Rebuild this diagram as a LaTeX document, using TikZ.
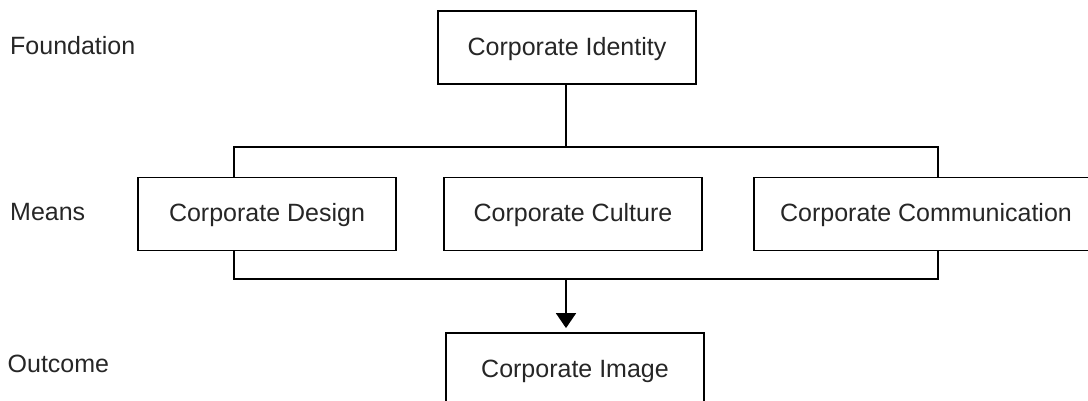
\documentclass[tikz,border=0pt]{standalone}
\usepackage{fontspec}
\setmainfont{Liberation Sans}
\usetikzlibrary{arrows.meta}
\begin{document}
\begin{tikzpicture}[x=1pt,y=-1pt,
  boxnode/.style={draw, line width=1.8pt, inner sep=0pt, minimum height=73pt, text height=20pt, text depth=4pt, text=black!85, font=\fontsize{25}{29}\selectfont},
  lbl/.style={inner sep=0pt, anchor=base west, text=black!85, font=\fontsize{25}{29}\selectfont},
  conn/.style={line width=1.8pt}]
\useasboundingbox (0,0) rectangle (1088,401);
\clip (0,0) rectangle (1088,401);
\node[lbl] (lf) at (10,54.5) {Foundation};
\node[lbl] (lm) at (10,220.5) {Means};
\node[lbl] (lo) at (7.5,372) {Outcome};
\node[boxnode, minimum width=258pt] (id) at (567,47.5) {Corporate Identity};
\node[boxnode, minimum width=258pt] (design) at (267,214) {Corporate Design};
\node[boxnode, minimum width=258pt] (culture) at (573,214) {Corporate Culture};
\node[boxnode, minimum width=344pt] (comm) at (926,214) {Corporate Communication};
\node[boxnode, minimum width=258pt] (image) at (575,369.5) {Corporate Image};
\coordinate (tb) at (566,147);
\coordinate (dl) at (234,147);
\coordinate (cl) at (938,147);
\coordinate (db) at (234,279);
\coordinate (cb) at (938,279);
\coordinate (ab) at (566,279);
\draw[conn] (id.south -| tb) -- (tb);
\draw[conn] (design.north -| dl) -- (dl) -- (cl) -- (comm.north -| cl);
\draw[conn] (design.south -| db) -- (db) -- (cb) -- (comm.south -| cb);
\draw[conn, -{Triangle[width=20pt,length=15pt]}, shorten >=4pt] (ab) -- (image.north -| ab);
\end{tikzpicture}
\end{document}
